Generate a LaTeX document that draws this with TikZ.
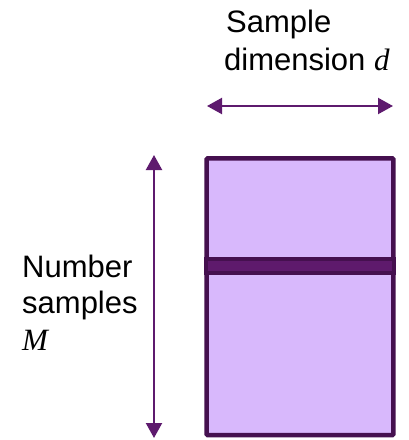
\documentclass[tikz,border=0pt]{standalone}
\usepackage{fontspec}
\setmainfont{Liberation Sans}
\newfontfamily\varfont{Liberation Serif}
\usetikzlibrary{arrows.meta}
\definecolor{fillc}{HTML}{D8B8FC}
\definecolor{edgec}{HTML}{45104F}
\definecolor{bandc}{HTML}{5E1A6C}
\definecolor{arrowc}{HTML}{5E1A6E}
\newcommand{\var}[1]{{\varfont\itshape #1}}
\begin{document}
\begin{tikzpicture}[x=1pt,y=-1pt,
  box/.style={draw=edgec, fill=fillc, line width=4.5pt, inner sep=0pt, rounded corners=1pt},
  band/.style={draw=edgec, fill=bandc, line width=4pt, inner sep=0pt},
  label/.style={inner sep=0pt, anchor=base west, font=\fontsize{31}{37}\selectfont},
  dimarrow/.style={draw=arrowc, line width=2.2pt, {Triangle[length=15pt,width=16pt]}-{Triangle[length=15pt,width=16pt]}}
]
\useasboundingbox (0,0) rectangle (408,440);
\node[box, minimum width=186.6pt, minimum height=276.7pt] (mat) at (300,296.7) {};
\node[band, minimum width=188pt, minimum height=13.7pt] (row) at (300,265.9) {};
\coordinate (vt) at (154,155);
\coordinate (vb) at (154,438);
\coordinate (hl) at (207,106);
\coordinate (hr) at (393,106);
\draw[dimarrow] (vt) -- (vb);
\draw[dimarrow] (hl) -- (hr);
\node[label] (s1) at (226,32) {Sample};
\node[label] (s2) at (224,70) {dimension \var{d}};
\node[label] (n1) at (22,277) {Number};
\node[label] (n2) at (22,313) {samples};
\node[label] (n3) at (22,350) {\var{M}};
\end{tikzpicture}
\end{document}
